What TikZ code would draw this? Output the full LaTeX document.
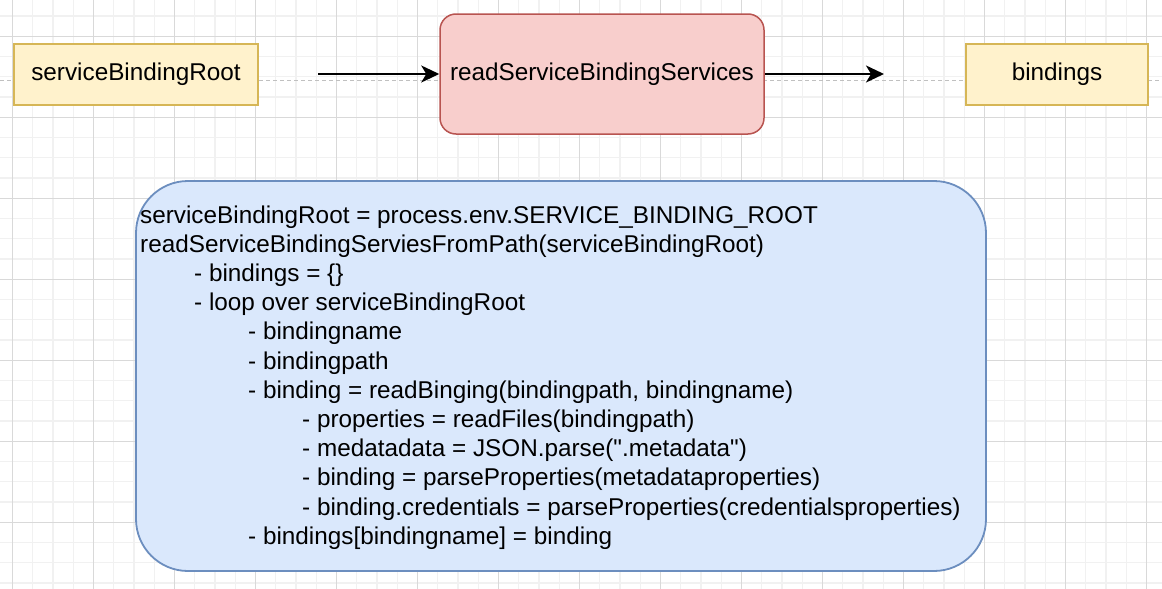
\documentclass[tikz,border=0pt]{standalone}
\usepackage{fontspec}
\setmainfont{Liberation Sans}[Ligatures=TeXOff]
\usetikzlibrary{arrows.meta}
\definecolor{yfill}{HTML}{FFF2CC}
\definecolor{ydraw}{HTML}{D6B656}
\definecolor{pfill}{HTML}{F8CECC}
\definecolor{pdraw}{HTML}{B85450}
\definecolor{bfill}{HTML}{DAE8FC}
\definecolor{bdraw}{HTML}{6C8EBF}
\definecolor{gminor}{HTML}{F1F1F1}
\definecolor{gmajor}{HTML}{D9D9D9}
\definecolor{guidec}{HTML}{C0C0C0}
\tikzset{
  minorgrid/.style={draw=gminor, line width=1.2pt},
  majorgrid/.style={draw=gmajor, line width=1pt},
  guideline/.style={draw=guidec, line width=1pt, dash pattern=on 4pt off 3pt},
  ybox/.style={draw=ydraw, fill=yfill, line width=1.5pt, font=\fontsize{24.3}{29}\selectfont, inner sep=0pt},
  pbox/.style={draw=pdraw, fill=pfill, line width=1.5pt, rounded corners=16pt, font=\fontsize{24.3}{29}\selectfont, inner sep=0pt},
  bbox/.style={draw=bdraw, fill=bfill, line width=1.8pt, rounded corners=52pt, inner sep=0pt},
  codeline/.style={anchor=base west, inner sep=0pt, font=\fontsize{24.3}{29}\selectfont},
  arr/.style={draw=black, line width=2pt, -{Stealth[length=18pt, width=17pt, inset=5pt]}},
}
\begin{document}
\begin{tikzpicture}[x=1pt,y=-1pt]
\useasboundingbox (0,0) rectangle (1162,589);
\fill[white] (0,0) rectangle (1162,589);
% grid
\foreach \i in {-1,...,57} \draw[minorgrid] ({12.5+20.25*\i},0) -- ({12.5+20.25*\i},589);
\foreach \j in {-1,...,27} \draw[minorgrid] (0,{36.3+20.25*\j}) -- (1162,{36.3+20.25*\j});
\foreach \i in {0,...,14} \draw[majorgrid] ({12.5+81*\i},0) -- ({12.5+81*\i},589);
\foreach \j in {0,...,6} \draw[majorgrid] (0,{36.3+81*\j}) -- (1162,{36.3+81*\j});
% guide line
\coordinate (gl) at (0,80);
\coordinate (gr) at (1162,80);
\draw[guideline] (gl) -- (gr);
% nodes
\node[ybox, minimum width=244pt, minimum height=61pt] (root) at (136,74.5) {serviceBindingRoot};
\node[pbox, minimum width=324pt, minimum height=120pt] (read) at (602,74) {readServiceBindingServices};
\node[ybox, minimum width=182pt, minimum height=61pt] (bind) at (1057,74.5) {bindings};
\coordinate (a1) at (318,74);
\coordinate (a2) at (884,74);
\draw[arr] (a1) -- (read.west);
\draw[arr] (read.east) -- (a2);
\node[bbox, minimum width=850pt, minimum height=390pt] (code) at (561,376) {};
% code text
\node[codeline] (l1) at (140,223) {serviceBindingRoot = process.env.SERVICE\_BINDING\_ROOT};
\node[codeline] (l2) at (140,252.2) {readServiceBindingServiesFromPath(serviceBindingRoot)};
\node[codeline] (l3) at (194,281.4) {- bindings = \{\}};
\node[codeline] (l4) at (194,310.6) {- loop over serviceBindingRoot};
\node[codeline] (l5) at (248,339.8) {- bindingname};
\node[codeline] (l6) at (248,369) {- bindingpath};
\node[codeline] (l7) at (248,398.2) {- binding = readBinging(bindingpath, bindingname)};
\node[codeline] (l8) at (302,427.4) {- properties = readFiles(bindingpath)};
\node[codeline] (l9) at (302,456.6) {- medatadata = JSON.parse(".metadata")};
\node[codeline] (l10) at (302,485.8) {- binding = parseProperties(metadataproperties)};
\node[codeline] (l11) at (302,515) {- binding.credentials = parseProperties(credentialsproperties)};
\node[codeline] (l12) at (248,544.2) {- bindings[bindingname] = binding};
\end{tikzpicture}
\end{document}
